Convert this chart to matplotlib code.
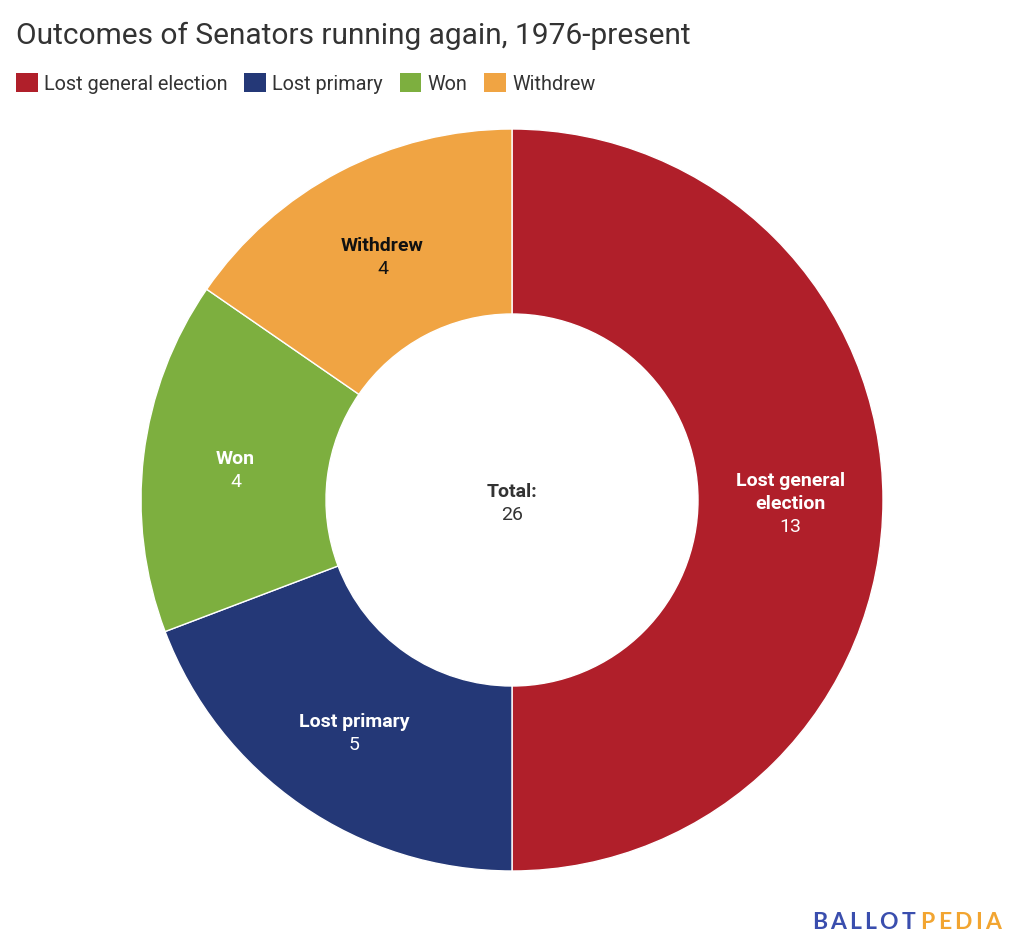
import numpy as np
import matplotlib
matplotlib.use('Agg')
import matplotlib.pyplot as plt
from matplotlib.patches import Patch

plt.rcParams['font.family'] = ['Roboto', 'DejaVu Sans']

# data
categories = ['Lost general election', 'Lost primary', 'Won', 'Withdrew']
label_lines = [['Lost general', 'election'], ['Lost primary'], ['Won'], ['Withdrew']]
counts = [13, 5, 4, 4]
colors = ['#B01F2A', '#243877', '#7DAF3F', '#F0A443']
text_colors = ['white', 'white', 'white', '#111111']

W, H = 1024, 953
fig = plt.figure(figsize=(W / 100, H / 100), dpi=100)
ax = fig.add_axes([0, 0, 1, 1])
ax.set_aspect('equal')
ax.axis('off')

cx, cy = 512, H - 501
r_out, r_in = 371, 186

ax.pie(counts, colors=colors, startangle=90, counterclock=False,
       radius=r_out, center=(cx, cy),
       wedgeprops=dict(width=r_out - r_in, edgecolor='white', linewidth=1))
ax.set_xlim(0, W)
ax.set_ylim(0, H)

LS = 23      # line step in px
FS = 14


def block(x, y, lines, value, color):
    # lines of bold name followed by the value, block centred on (x, y)
    rows = [(t, 'bold') for t in lines] + [(str(value), 'normal')]
    n = len(rows)
    for i, (t, w) in enumerate(rows):
        yc = y - 1 - (i - (n - 1) / 2) * LS
        ax.text(x, yc - 7, t, ha='center', va='baseline', fontsize=FS,
                fontweight=w, color=color)


total = sum(counts)
r_mid = (r_out + r_in) / 2
start = 90.0
for lines, n, tc in zip(label_lines, counts, text_colors):
    span = 360.0 * n / total
    mid = np.deg2rad(start - span / 2)
    start -= span
    block(cx + r_mid * np.cos(mid), cy + r_mid * np.sin(mid), lines, n, tc)

block(cx, cy, ['Total:'], total, '#333333')

# title
fig.text(16 / W, 1 - 36 / H, 'Outcomes of Senators running again, 1976-present',
         ha='left', va='center', fontsize=21.5, color='#333333')

# legend
handles = [Patch(facecolor=c, edgecolor='none') for c in colors]
fig.legend(handles, categories, loc='upper left', bbox_to_anchor=(16 / W, 1 - 74 / H),
           ncol=4, frameon=False, fontsize=14.3, handlelength=1.1, handleheight=1.1,
           handletextpad=0.3, columnspacing=0.85, borderaxespad=0, borderpad=0,
           labelcolor='#333333')

# logo, letter by letter with tracking
fig.canvas.draw()
renderer = fig.canvas.get_renderer()
x0, base = 812, H - 929
logo = [('BALLOT', '#3A4EAE'), ('PEDIA', '#F2A531')]
track = 3.2
x = x0
for word, col in logo:
    for ch in word:
        t = ax.text(x, base, ch, ha='left', va='baseline', fontsize=16.5,
                    fontweight='bold', color=col, family='Lato')
        bb = t.get_window_extent(renderer)
        x += bb.width + track
    x += 2

fig.savefig('out.png', dpi=100, facecolor='white')
